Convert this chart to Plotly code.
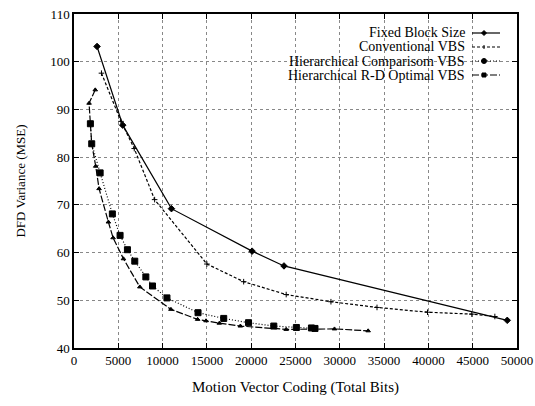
import plotly.graph_objects as go

labels = ["Fixed Block Size", "Conventional VBS",
          "Hierarchical Comparisom VBS", "Hierarchical R-D Optimal VBS"]

fixed_x = [2600, 5500, 11000, 20100, 23700, 48900]
fixed_y = [103.2, 86.7, 69.2, 60.3, 57.2, 45.8]

conv_x = [3100, 5300, 6800, 9100, 15000, 19150, 23950, 29000, 34200, 39900, 44900, 47500]
conv_y = [97.6, 87.5, 81.8, 71.1, 57.6, 53.9, 51.2, 49.7, 48.5, 47.5, 47.1, 46.6]

comp_x = [1850, 2000, 2950, 4330, 5200, 6030, 6860, 8110, 8860, 10490, 14000,
          16900, 19700, 22550, 25100, 26800, 27200]
comp_y = [87.0, 82.8, 76.7, 68.1, 63.6, 60.6, 58.2, 54.9, 53.0, 50.5, 47.4,
          46.2, 45.3, 44.6, 44.3, 44.2, 44.1]

rd_x = [2400, 1700, 1850, 2000, 2450, 2830, 3880, 4410, 5580, 7430, 10940,
        13950, 14900, 16400, 18780, 23950, 29400, 33200]
rd_y = [94.1, 91.3, 87.0, 82.8, 78.1, 73.4, 66.4, 63.1, 58.7, 52.8, 48.1,
        46.0, 45.7, 45.2, 44.6, 43.9, 44.0, 43.6]

x_ticks = [0, 5000, 10000, 15000, 20000, 25000, 30000, 35000, 40000, 45000, 50000]
y_ticks = [40, 50, 60, 70, 80, 90, 100, 110]

FONT = "Liberation Serif"

W, H = 535, 406
ML, MR, MT, MB = 74, 18, 14, 58
PW, PH = W - ML - MR, H - MT - MB

series = [
    (fixed_x, fixed_y, labels[0], "solid", "diamond", 5),
    (conv_x, conv_y, labels[1], "3px,2px", "cross-thin-open", 4),
    (comp_x, comp_y, labels[2], "1px,2px", "square", 6),
    (rd_x, rd_y, labels[3], "7px,2px", "triangle-up", 4),
]

fig = go.Figure()
for xs, ys, name, dash, sym, sz in series:
    fig.add_trace(go.Scatter(
        x=xs, y=ys, mode="lines+markers", name=name, showlegend=False,
        line=dict(color="black", width=1.2, dash=dash),
        marker=dict(color="black", symbol=sym, size=sz,
                    line=dict(color="black", width=1)),
    ))

# hand-drawn legend (keys to the right of the text, as in the original)
def px_x(p):
    return (p - ML) / PW

def px_y(p):
    return (H - MB - p) / PH

row_y = [33, 47, 61, 75]
key_x0, key_x1, key_xc = 472, 500, 484
key_marks = ["diamond", "cross", "circle", "square"]
shapes = []
for (xs, ys, name, dash, sym, sz), yy, mk in zip(series, row_y, key_marks):
    fig.add_annotation(x=px_x(466), y=px_y(yy), xref="paper", yref="paper",
                       text=name, showarrow=False, xanchor="right",
                       yanchor="middle", borderpad=0,
                       font=dict(family=FONT, size=14, color="black"))
    shapes.append(dict(type="line", xref="paper", yref="paper",
                       x0=px_x(key_x0), x1=px_x(key_x1),
                       y0=px_y(yy), y1=px_y(yy),
                       line=dict(color="black", width=1.2, dash=dash)))
    if mk == "diamond":
        r = 2.5
        path = "M {} {} L {} {} L {} {} L {} {} Z".format(
            px_x(key_xc - r), px_y(yy), px_x(key_xc), px_y(yy - r),
            px_x(key_xc + r), px_y(yy), px_x(key_xc), px_y(yy + r))
        shapes.append(dict(type="path", xref="paper", yref="paper", path=path,
                           fillcolor="black", line=dict(color="black", width=1)))
    elif mk == "cross":
        shapes.append(dict(type="line", xref="paper", yref="paper",
                           x0=px_x(key_xc), x1=px_x(key_xc),
                           y0=px_y(yy - 2), y1=px_y(yy + 2),
                           line=dict(color="black", width=1)))
    elif mk == "circle":
        shapes.append(dict(type="circle", xref="paper", yref="paper",
                           x0=px_x(key_xc - 2.5), x1=px_x(key_xc + 2.5),
                           y0=px_y(yy - 2.5), y1=px_y(yy + 2.5),
                           fillcolor="black", line=dict(color="black", width=1)))
    else:
        shapes.append(dict(type="rect", xref="paper", yref="paper",
                           x0=px_x(key_xc - 2), x1=px_x(key_xc + 2),
                           y0=px_y(yy - 2), y1=px_y(yy + 2),
                           fillcolor="black", line=dict(color="black", width=1)))

axis_common = dict(
    showline=True, linecolor="black", linewidth=1.5, mirror="allticks",
    ticks="inside", ticklen=5, tickcolor="black",
    showgrid=True, gridcolor="#888", griddash="dot", gridwidth=1,
    zeroline=False, automargin=False,
    tickfont=dict(family=FONT, size=13, color="black"),
)

fig.update_xaxes(range=[0, 50000], tickvals=x_ticks,
                 ticktext=[str(v) for v in x_ticks],
                 title=dict(text="Motion Vector Coding (Total Bits)",
                            font=dict(family=FONT, size=15, color="black"),
                            standoff=14),
                 **axis_common)
fig.update_yaxes(range=[40, 110], tickvals=y_ticks,
                 ticktext=[str(v) for v in y_ticks],
                 title=dict(text="DFD Variance (MSE)",
                            font=dict(family=FONT, size=13, color="black"),
                            standoff=22),
                 **axis_common)

fig.update_layout(
    width=W, height=H,
    margin=dict(l=ML, r=MR, t=MT, b=MB),
    paper_bgcolor="white", plot_bgcolor="white",
    showlegend=False,
    shapes=shapes,
)

fig.write_html("out.html",
               config={"displayModeBar": False},
               post_script="document.body.style.margin='0';"
                           "document.body.style.overflow='hidden';")
